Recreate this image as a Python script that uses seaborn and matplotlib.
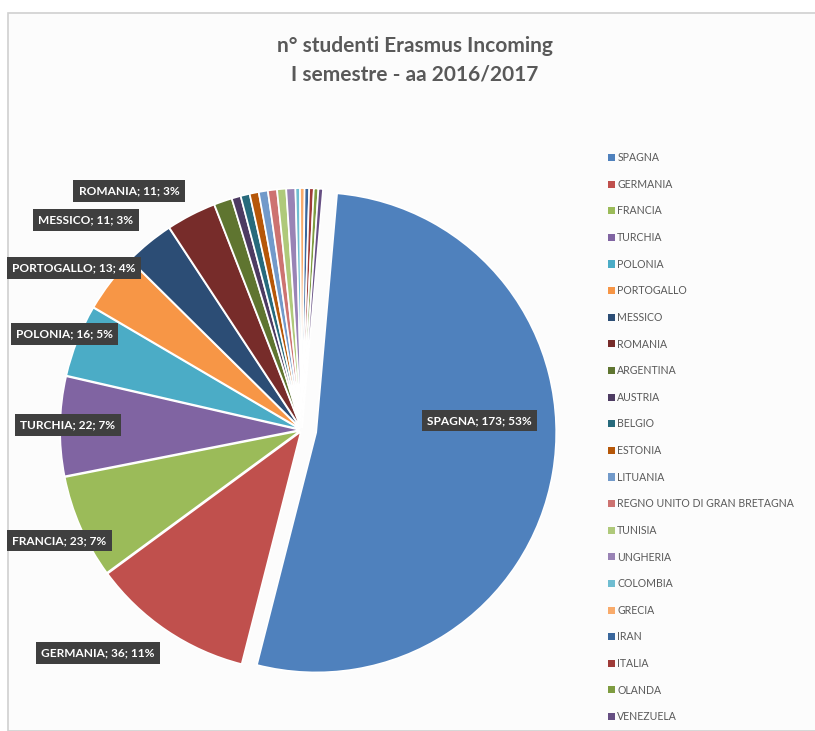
import matplotlib
matplotlib.use("Agg")
import matplotlib.pyplot as plt
import matplotlib.patches as mpatches
import seaborn as sns
import numpy as np

sns.set_theme(style="white")
plt.rcParams["font.family"] = ["Lato", "DejaVu Sans"]

# --------------------------------------------------
# Data
# --------------------------------------------------

countries = [
    "SPAGNA", "GERMANIA", "FRANCIA", "TURCHIA", "POLONIA", "PORTOGALLO",
    "MESSICO", "ROMANIA", "ARGENTINA", "AUSTRIA", "BELGIO", "ESTONIA",
    "LITUANIA", "REGNO UNITO DI GRAN BRETAGNA", "TUNISIA", "UNGHERIA",
    "COLOMBIA", "GRECIA", "IRAN", "ITALIA", "OLANDA", "VENEZUELA",
]
students = [173, 36, 23, 22, 16, 13, 11, 11, 4, 2, 2, 2, 2, 2, 2, 2, 1, 1, 1, 1, 1, 1]

colors = [
    "#4F81BD", "#C0504D", "#9BBB59", "#8064A2", "#4BACC6", "#F79646",
    "#2C4D75", "#772C2A", "#5F7530", "#4D3B62", "#276A7C", "#B65708",
    "#729ACA", "#CD7371", "#AFC97A", "#9983B5", "#6FBDD1", "#F9AB6B",
    "#3A679C", "#9F3B38", "#7E9C40", "#664F83",
]

title = "n° studenti Erasmus Incoming\nI semestre - aa 2016/2017"

# label placement (data units, pie radius = 1) for the labelled slices
label_pos = {
    "SPAGNA": (0.74, 0.04),
    "GERMANIA": (-0.85, -0.93),
    "FRANCIA": (-1.01, -0.46),
    "TURCHIA": (-0.975, 0.02),
    "POLONIA": (-0.99, 0.40),
    "PORTOGALLO": (-0.95, 0.675),
    "MESSICO": (-0.90, 0.875),
    "ROMANIA": (-0.72, 0.995),
}

# --------------------------------------------------
# Plot
# --------------------------------------------------

W, H = 815, 731
fig = plt.figure(figsize=(W / 100, H / 100), dpi=100)
fig.patch.set_facecolor("white")

# chart frame
frame = mpatches.Rectangle((8 / W, 0), 1, 1 - 13 / H, transform=fig.transFigure,
                           facecolor="#fcfcfc", edgecolor="#d0d0d0", linewidth=1.2,
                           zorder=-10)
fig.patches.append(frame)

cx, cy = 302, 430
ax = fig.add_axes([(cx - 300) / W, (H - cy - 300) / H, 600 / W, 600 / H])
ax.set_zorder(5)
ax.axis("off")
ax.patch.set_alpha(0)

explode = [0.06] + [0.008] * (len(students) - 1)
wedges, _ = ax.pie(students, colors=colors, startangle=85, counterclock=False,
                   explode=explode, radius=1.0,
                   wedgeprops=dict(edgecolor="white", linewidth=1.2))
ax.set_xlim(-1.25, 1.25)
ax.set_ylim(-1.25, 1.25)
ax.set_aspect("equal")

total = sum(students)
for name, val in zip(countries, students):
    if name in label_pos:
        x, y = label_pos[name]
        ax.text(x, y, f"{name}; {val}; {val / total * 100:.0f}%",
                ha="center", va="center", color="white", fontsize=8.6,
                fontweight="bold", clip_on=False,
                bbox=dict(boxstyle="square,pad=0.45", facecolor="#3f3f3f",
                          edgecolor="none"))

fig.text(0.509, 1 - 60 / H, title, ha="center", va="center", fontsize=15,
         fontweight="bold", color="#595959", linespacing=1.55)

leg = fig.legend(wedges, countries, loc="upper left",
                 bbox_to_anchor=(604 / W, 1 - 148 / H), frameon=False,
                 fontsize=7.6, labelcolor="#595959", handlelength=0.65,
                 handleheight=0.65, handletextpad=0.2, labelspacing=1.48,
                 borderaxespad=0)
for h in leg.legend_handles:
    h.set_edgecolor("none")

fig.savefig("out.png", dpi=100)
